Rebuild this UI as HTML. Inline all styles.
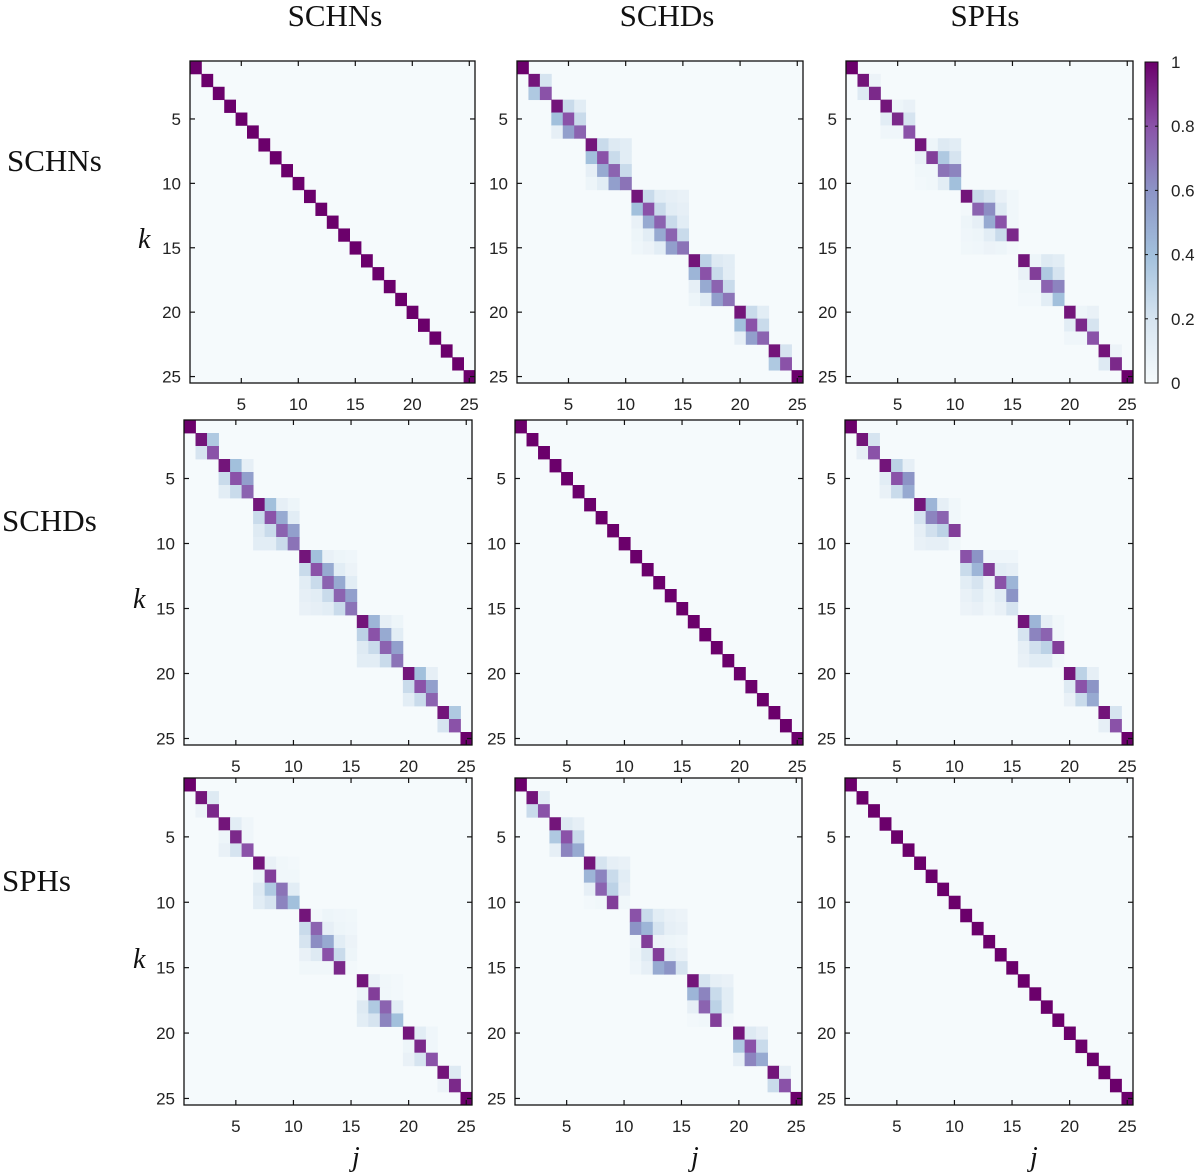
<!DOCTYPE html>
<html><head><meta charset="utf-8"><style>
html,body{margin:0;padding:0;background:#fff;}
svg{display:block;}
.tk{font-family:"Liberation Sans",sans-serif;font-size:17px;fill:#222;}
.ttl{font-family:"Liberation Serif",serif;font-size:31px;fill:#111;}
.var{font-family:"Liberation Serif",serif;font-size:28px;font-style:italic;fill:#111;}
</style></head><body>
<svg id="fig" width="1200" height="1176" viewBox="0 0 1200 1176" xmlns="http://www.w3.org/2000/svg">
<text class="ttl" x="335" y="26" text-anchor="middle">SCHNs</text>
<text class="ttl" x="667" y="26" text-anchor="middle">SCHDs</text>
<text class="ttl" x="985" y="26" text-anchor="middle">SPHs</text>
<text class="ttl" x="7" y="171">SCHNs</text>
<text class="ttl" x="2" y="531">SCHDs</text>
<text class="ttl" x="2" y="891">SPHs</text>
<text class="var" x="138" y="248">k</text>
<text class="var" x="133" y="608">k</text>
<text class="var" x="133" y="968">k</text>
<text class="var" x="352" y="1166">j</text>
<text class="var" x="691" y="1166">j</text>
<text class="var" x="1030" y="1166">j</text>
</svg>
<script>
const blockSizes = [1,2,3,4,5,4,3,2,1];
const tickLabels = [5,10,15,20,25];
const cbarTicks = [0,0.2,0.4,0.6,0.8,1];
const cbarLabels = ["0","0.2","0.4","0.6","0.8","1"];
const colorStops = [0,0.2,0.4,0.6,0.8,1];
const colorHex = ["#f5fafc","#d6e4f0","#a2c0dc","#8c94c6","#8a52a8","#6b006b"];

const blocksSCHN_SCHD = [
 [[1]],
 [[.95,.2],[.35,.8]],
 [[.95,.25,.12],[.4,.8,.25],[.1,.55,.75]],
 [[.95,.25,.15,.12],[.4,.8,.25,.12],[.1,.5,.75,.25],[.05,.12,.55,.7]],
 [[.95,.25,.12,.1,.08],[.4,.8,.25,.12,.1],[.08,.5,.75,.25,.12],[.05,.12,.5,.75,.25],[.04,.06,.12,.55,.7]],
 [[.95,.3,.15,.12],[.45,.8,.25,.12],[.1,.5,.75,.25],[.05,.12,.55,.7]],
 [[.95,.25,.12],[.4,.8,.25],[.1,.55,.75]],
 [[.95,.2],[.35,.8]],
 [[1]]
];
const blocksSCHN_SPH = [
 [[1]],
 [[.95,.06],[.15,.9]],
 [[.95,.05,.08],[.12,.9,.2],[.04,.04,.8]],
 [[.95,.05,.15,.12],[.08,.85,.35,.2],[.03,.03,.7,.65],[.02,.03,.12,.4]],
 [[.95,.25,.2,.08,.03],[.02,.75,.62,.15,.03],[.05,.1,.5,.8,.03],[.04,.05,.12,.25,.9],[.03,.04,.06,.05,.02]],
 [[.95,.05,.15,.12],[.08,.85,.35,.2],[.03,.03,.75,.65],[.02,.02,.12,.4]],
 [[.95,.05,.08],[.12,.9,.2],[.04,.04,.8]],
 [[.95,.06],[.15,.9]],
 [[1]]
];
const blocksSCHD_SPH = [
 [[1]],
 [[.95,.2],[.1,.8]],
 [[.95,.3,.1],[.12,.8,.6],[.08,.25,.5]],
 [[.95,.45,.1,.03],[.2,.65,.75,.03],[.1,.22,.3,.85],[.08,.1,.1,.03]],
 [[.8,.6,.04,.04,.04],[.25,.45,.85,.12,.1],[.12,.2,.06,.8,.45],[.08,.12,.05,.12,.6],[.06,.08,.04,.08,.2]],
 [[.95,.45,.1,.03],[.2,.65,.75,.03],[.1,.22,.3,.85],[.08,.12,.12,.03]],
 [[.95,.3,.1],[.15,.8,.6],[.08,.25,.5]],
 [[.95,.2],[.1,.8]],
 [[1]]
];
const blocksSPH_SCHD = [
 [[1]],
 [[.95,.12],[.25,.8]],
 [[.95,.15,.1],[.35,.8,.25],[.1,.65,.5]],
 [[.95,.2,.1,.08],[.45,.65,.25,.12],[.1,.75,.3,.1],[.02,.03,.85,.03]],
 [[.8,.25,.12,.08,.06],[.6,.45,.2,.1,.08],[.04,.85,.06,.05,.04],[.05,.15,.85,.12,.08],[.04,.1,.5,.6,.2]],
 [[.95,.2,.1,.08],[.45,.65,.25,.12],[.1,.75,.3,.12],[.02,.03,.85,.03]],
 [[.95,.15,.1],[.35,.8,.25],[.1,.65,.5]],
 [[.95,.1],[.25,.8]],
 [[1]]
];

function buildMatrix(blocks, transpose){
  const n = 25, M = [];
  for(let i=0;i<n;i++){M.push(new Array(n).fill(0));}
  let off = 0;
  blocks.forEach((b,bi)=>{
    for(let r=0;r<b.length;r++) for(let c=0;c<b[r].length;c++){
      if(transpose) M[off+c][off+r]=b[r][c]; else M[off+r][off+c]=b[r][c];
    }
    off += blockSizes[bi];
  });
  return M;
}
function identity(){const b=blockSizes.map(s=>{const a=[];for(let i=0;i<s;i++){const r=new Array(s).fill(0);r[i]=1;a.push(r);}return a;});return buildMatrix(b,false);}
function hex2rgb(h){return [1,3,5].map(i=>parseInt(h.substr(i,2),16));}
function color(v){
  v=Math.max(0,Math.min(1,v));
  for(let i=0;i<colorStops.length-1;i++){
    if(v<=colorStops[i+1]){
      const t=(v-colorStops[i])/(colorStops[i+1]-colorStops[i]);
      const a=hex2rgb(colorHex[i]),b=hex2rgb(colorHex[i+1]);
      return "rgb("+a.map((x,k)=>Math.round(x+(b[k]-x)*t)).join(",")+")";
    }
  }
  return colorHex[colorHex.length-1];
}
const NS="http://www.w3.org/2000/svg";
const svg=document.getElementById('fig');
function el(tag,attrs,parent){const e=document.createElementNS(NS,tag);for(const k in attrs)e.setAttribute(k,attrs[k]);(parent||svg).appendChild(e);return e;}

const panels = [
 {r:0,c:0,x0:190,x1:475,y0:61,y1:383,M:identity()},
 {r:0,c:1,x0:517,x1:803,y0:61,y1:383,M:buildMatrix(blocksSCHN_SCHD,false)},
 {r:0,c:2,x0:846,x1:1133,y0:61,y1:383,M:buildMatrix(blocksSCHN_SPH,false)},
 {r:1,c:0,x0:184,x1:472,y0:420,y1:745,M:buildMatrix(blocksSCHN_SCHD,true)},
 {r:1,c:1,x0:515,x1:803,y0:420,y1:745,M:identity()},
 {r:1,c:2,x0:845,x1:1133,y0:420,y1:745,M:buildMatrix(blocksSCHD_SPH,false)},
 {r:2,c:0,x0:184,x1:472,y0:778,y1:1105,M:buildMatrix(blocksSCHN_SPH,true)},
 {r:2,c:1,x0:515,x1:802,y0:778,y1:1105,M:buildMatrix(blocksSPH_SCHD,false)},
 {r:2,c:2,x0:845,x1:1133,y0:778,y1:1105,M:identity()}
];
panels.forEach(p=>{
  const g=el('g',{});
  
  
  const cw=(p.x1-p.x0)/25, ch=(p.y1-p.y0)/25;
  const xs=j=>p.x0+(j-1)*cw, ys=k=>p.y0+(k-1)*ch;
  el('rect',{x:p.x0,y:p.y0,width:p.x1-p.x0,height:p.y1-p.y0,fill:colorHex[0]},g);
  for(let k=1;k<=25;k++) for(let j=1;j<=25;j++){
    const v=p.M[k-1][j-1];
    if(v<=0.005) continue;
    const c=el('rect',{x:xs(j).toFixed(2),y:ys(k).toFixed(2),width:(cw+0.4).toFixed(2),height:(ch+0.4).toFixed(2),fill:color(v)},g);
    
    
  }
  el('rect',{x:p.x0,y:p.y0,width:p.x1-p.x0,height:p.y1-p.y0,fill:'none',stroke:'#111','stroke-width':1.3},g);
  tickLabels.forEach(t=>{
    const tx=xs(t)+cw/2, ty=ys(t)+ch/2;
    el('line',{x1:tx,x2:tx,y1:p.y0,y2:p.y0+5,stroke:'#111','stroke-width':1.2},g);
    el('line',{x1:tx,x2:tx,y1:p.y1,y2:p.y1-5,stroke:'#111','stroke-width':1.2},g);
    el('line',{x1:p.x0,x2:p.x0+5,y1:ty,y2:ty,stroke:'#111','stroke-width':1.2},g);
    el('line',{x1:p.x1,x2:p.x1-5,y1:ty,y2:ty,stroke:'#111','stroke-width':1.2},g);
    const lx=el('text',{x:tx,y:p.y1+27,class:'tk','text-anchor':'middle'},g);
    lx.textContent=t;
    
    
    const ly=el('text',{x:p.x0-9,y:ty+6,class:'tk','text-anchor':'end'},g);
    ly.textContent=t;
    
    
  });
});
const cb={x0:1145,x1:1158,y0:62,y1:383};
const cg=el('g',{});


const defs=el('defs',{},cg);
const lg=el('linearGradient',{id:'cbg',x1:0,y1:1,x2:0,y2:0},defs);
colorStops.forEach((s,i)=>el('stop',{offset:s,'stop-color':colorHex[i]},lg));
el('rect',{x:cb.x0,y:cb.y0,width:cb.x1-cb.x0,height:cb.y1-cb.y0,fill:'url(#cbg)',stroke:'#111','stroke-width':1},cg);
cbarTicks.forEach((v,i)=>{
  const y=cb.y1-v*(cb.y1-cb.y0);
  el('line',{x1:cb.x0,x2:cb.x0+3,y1:y,y2:y,stroke:'#111'},cg);
  el('line',{x1:cb.x1,x2:cb.x1-3,y1:y,y2:y,stroke:'#111'},cg);
  const t=el('text',{x:1171,y:y+6,class:'tk'},cg);
  t.textContent=cbarLabels[i];
  
  
});
</script>
</body></html>
